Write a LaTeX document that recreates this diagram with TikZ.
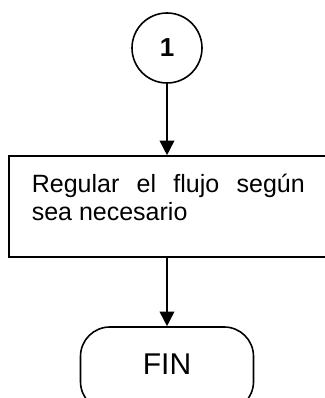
\documentclass[tikz,border=0pt]{standalone}
\usepackage{fontspec}
\setmainfont{Liberation Sans}
\usetikzlibrary{arrows.meta}

\tikzset{every picture/.style={line width=1.2pt}}
\tikzset{
  conector/.style={circle, draw, minimum size=52.5pt, inner sep=0pt, font=\fontsize{19.5}{22}\selectfont\bfseries},
  procbox/.style={rectangle, draw, minimum width=240.75pt, minimum height=75.75pt, inner sep=0pt},
  proctext/.style={anchor=north west, inner sep=0pt, text width=204.75pt, align=justify, font=\fontsize{18.75}{21}\selectfont},
  terminal/.style={rectangle, draw, rounded corners=22pt, minimum width=129.75pt, minimum height=63pt, inner sep=0pt, text depth=7.5pt, font=\fontsize{22.5}{26}\selectfont},
  flecha/.style={-{Triangle[length=11pt,width=11pt]}}
}

\begin{document}
\begin{tikzpicture}[x=0.75pt,y=0.75pt,yscale=-1,xscale=1]
	\useasboundingbox (0,0) rectangle (324,398);

	%Shape: Circle
	\node [conector] (uno) at (167,48) {1};
	%Shape: Rectangle
	\node [procbox] (regular) at (169.5,206.5) {};
	% Text Node
	\node [proctext] (regtexto) at (31,173) {Regular el flujo según sea necesario};
	%Shape: Rounded Rectangle
	\node [terminal] (fin) at (167,369) {FIN};

	%Straight Lines
	\draw [flecha] (uno) -- (uno |- regular.north);
	%Straight Lines
	\draw [flecha] (regular.south -| fin) -- (fin);

\end{tikzpicture}
\end{document}
